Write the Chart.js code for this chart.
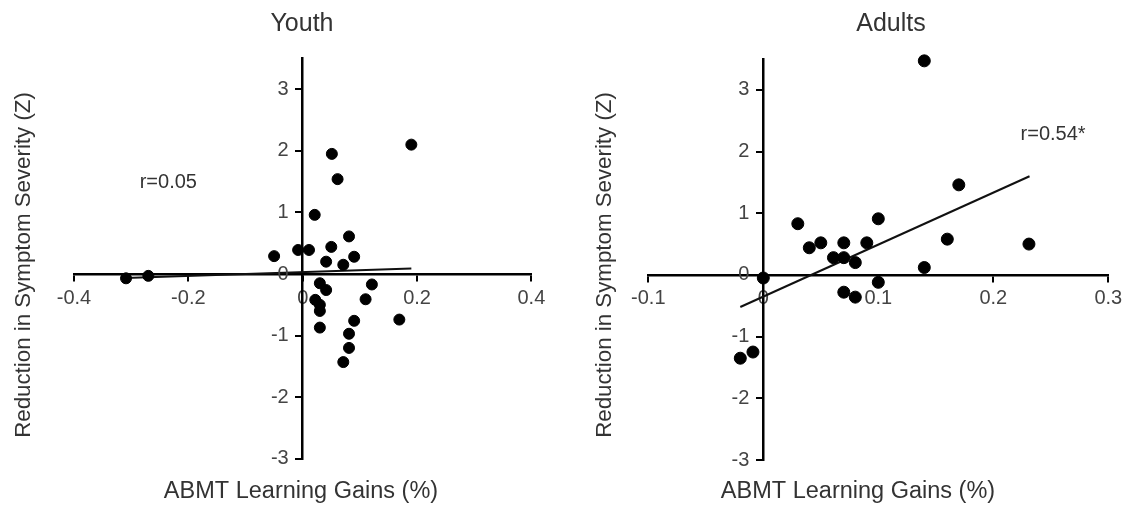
<!DOCTYPE html>
<html>
<head>
<meta charset="utf-8">
<script src="https://cdn.jsdelivr.net/npm/chart.js@4/dist/chart.umd.min.js"></script>
<style>
  body { margin: 0; background: #fff; }
  #wrap { position: relative; width: 1136px; height: 510px; }
  .box { position: absolute; top: 0; width: 568px; height: 510px; }
</style>
</head>
<body>
<div id="wrap">
  <div class="box" style="left:0"><canvas id="youth"></canvas></div>
  <div class="box" style="left:568px"><canvas id="adults"></canvas></div>
</div>
<script>
// youth panel
var youthX = [-0.309, -0.27, -0.05, -0.008, 0.011, 0.021, 0.051, 0.061, 0.05, 0.041, 0.071, 0.081, 0.09, 0.19,
  0.03, 0.041, 0.022, 0.03, 0.03, 0.03, 0.121, 0.11, 0.09, 0.081, 0.081, 0.071, 0.169];
var youthY = [-0.07, -0.03, 0.29, 0.39, 0.39, 0.96, 1.95, 1.54, 0.44, 0.2, 0.15, 0.61, 0.28, 2.1,
  -0.15, -0.26, -0.42, -0.5, -0.6, -0.87, -0.17, -0.41, -0.76, -0.97, -1.2, -1.43, -0.74];
var youthFitX = [-0.31, 0.19];
var youthFitY = [-0.065, 0.09];
var youthXTicks = [-0.4, -0.2, 0, 0.2, 0.4];

// adults panel
var adultX = [-0.02, -0.009, 0, 0.03, 0.04, 0.05, 0.061, 0.07, 0.07, 0.08, 0.09, 0.1, 0.1, 0.07, 0.08,
  0.14, 0.14, 0.16, 0.17, 0.231];
var adultY = [-1.35, -1.25, -0.05, 0.83, 0.44, 0.52, 0.28, 0.52, 0.28, 0.2, 0.52, 0.91, -0.12, -0.28, -0.36,
  0.12, 3.47, 0.58, 1.46, 0.5];
var adultFitX = [-0.02, 0.2315];
var adultFitY = [-0.52, 1.6];
var adultXTicks = [-0.1, 0, 0.1, 0.2, 0.3];

var yTicks = [-3, -2, -1, 0, 1, 2, 3];

var FONT = '"Liberation Sans", Arial, sans-serif';
var TXT = '#333';

function pts(xs, ys) {
  return xs.map(function (x, i) { return { x: x, y: ys[i] }; });
}

// draws panel title, axis titles, y tick labels and the r= note
var textPlugin = {
  id: 'panelText',
  afterDraw: function (chart) {
    var o = chart.options.plugins.panelText;
    var ctx = chart.ctx;
    var sx = chart.scales.x, sy = chart.scales.y;
    ctx.save();
    ctx.fillStyle = TXT;
    ctx.textAlign = 'center';
    ctx.textBaseline = 'middle';
    ctx.font = '25px ' + FONT;
    ctx.fillText(o.title, o.titleX, 24);
    ctx.font = '23.5px ' + FONT;
    ctx.fillText('ABMT Learning Gains (%)', o.xTitleX, 492);
    ctx.save();
    ctx.translate(o.yTitleX, 265);
    ctx.rotate(-Math.PI / 2);
    ctx.font = '22.3px ' + FONT;
    ctx.fillText('Reduction in Symptom Severity (Z)', 0, 0);
    ctx.restore();
    ctx.font = '20px ' + FONT;
    ctx.fillText(o.note, sx.getPixelForValue(o.noteAt[0]), sy.getPixelForValue(o.noteAt[1]));
    // y tick labels left of the y axis
    ctx.fillStyle = '#444';
    ctx.textAlign = 'right';
    var ax = sx.getPixelForValue(0);
    sy.ticks.forEach(function (t) {
      ctx.fillText(String(t.value), ax - 14, sy.getPixelForValue(t.value));
    });
    ctx.restore();
  }
};

function makeChart(id, xs, ys, fx, fy, xTicks, xmin, xmax, pad, r, txt) {
  var axisGrid = { display: true, drawOnChartArea: false, drawTicks: true, tickLength: 6, color: '#000', lineWidth: 2 };
  var axisBorder = { display: true, color: '#000', width: 2.5 };
  new Chart(document.getElementById(id), {
    type: 'scatter',
    data: {
      datasets: [
        {
          data: pts(xs, ys),
          backgroundColor: '#000',
          borderColor: '#000',
          pointRadius: r,
          pointHoverRadius: r,
          clip: false
        },
        {
          type: 'line',
          data: pts(fx, fy),
          borderColor: '#111',
          borderWidth: 2,
          pointRadius: 0,
          fill: false
        }
      ]
    },
    options: {
      responsive: true,
      maintainAspectRatio: false,
      animation: false,
      layout: { padding: pad },
      plugins: {
        legend: { display: false },
        tooltip: { enabled: false },
        panelText: txt
      },
      scales: {
        x: {
          type: 'linear',
          position: { y: 0 },
          min: xmin,
          max: xmax,
          afterBuildTicks: function (s) { s.ticks = xTicks.map(function (v) { return { value: v }; }); },
          grid: axisGrid,
          border: axisBorder,
          ticks: { color: '#444', font: { family: FONT, size: 20 }, padding: 6, maxRotation: 0,
            callback: function (v) { return String(v); } }
        },
        y: {
          type: 'linear',
          position: { x: 0 },
          min: -3,
          max: 3.5,
          afterBuildTicks: function (s) { s.ticks = yTicks.map(function (v) { return { value: v }; }); },
          grid: axisGrid,
          border: axisBorder,
          ticks: { display: false }
        }
      }
    },
    plugins: [textPlugin]
  });
}

makeChart('youth', youthX, youthY, youthFitX, youthFitY, youthXTicks, -0.4, 0.4,
  { left: 74, right: 36.6, top: 58.4, bottom: 51.2 }, 5.5,
  { title: 'Youth', titleX: 302, xTitleX: 301, yTitleX: 24, note: 'r=0.05', noteAt: [-0.235, 1.48] });

makeChart('adults', adultX, adultY, adultFitX, adultFitY, adultXTicks, -0.1, 0.3,
  { left: 80.3, right: 27.7, top: 59, bottom: 50 }, 6,
  { title: 'Adults', titleX: 323, xTitleX: 290, yTitleX: 37, note: 'r=0.54*', noteAt: [0.252, 2.27] });
</script>
</body>
</html>
